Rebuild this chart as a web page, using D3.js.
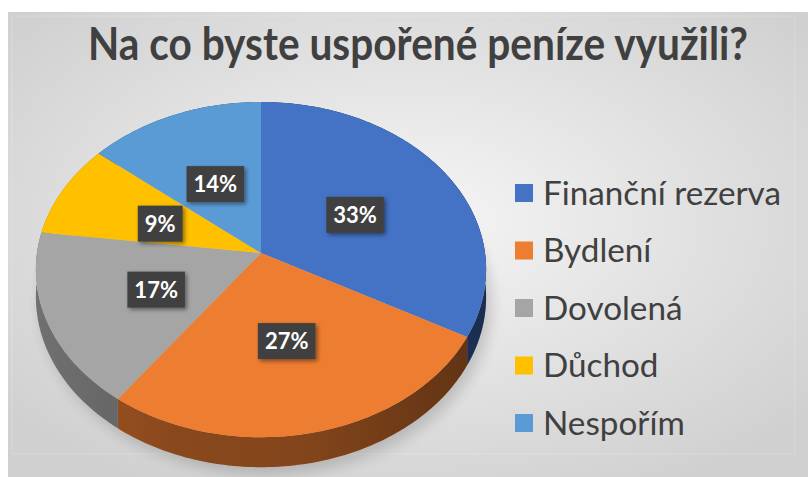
<!DOCTYPE html>
<html>
<head>
<meta charset="utf-8">
<script src="https://cdn.jsdelivr.net/npm/d3@7"></script>
<style>
  html, body { margin: 0; padding: 0; background: #fff; }
  svg { display: block; }
</style>
</head>
<body>
<svg id="chart" width="808" height="477"></svg>
<script>
var title = "Na co byste uspořené peníze využili?";
var categories = ["Finanční rezerva", "Bydlení", "Dovolená", "Důchod", "Nespořím"];
var values = [33, 27, 17, 9, 14];
var colors = ["#4472C4", "#ED7D31", "#A5A5A5", "#FFC000", "#5B9BD5"];

var width = 808, height = 477;
var svg = d3.select("#chart");
var defs = svg.append("defs");

// background
var bg = defs.append("radialGradient").attr("id", "bg")
  .attr("cx", "0.5").attr("cy", "0.45").attr("r", "0.65");
bg.append("stop").attr("offset", "0").attr("stop-color", "#f6f6f6");
bg.append("stop").attr("offset", "1").attr("stop-color", "#d0d0d0");
svg.append("rect").attr("x", 8).attr("y", 12).attr("width", width - 8).attr("height", height - 12)
  .attr("fill", "url(#bg)");
svg.append("rect").attr("x", 12).attr("y", 16).attr("width", 783).attr("height", 438)
  .attr("fill", "none").attr("stroke", "#ffffff").attr("stroke-opacity", 0.2);

// title, fitted to its width in the reference (Calibri is taller/narrower, so stretch a bit)
var t = svg.append("text").text(title)
  .attr("x", 0).attr("y", 0)
  .attr("text-anchor", "middle")
  .attr("transform", "translate(418,60) scale(1,1.15)")
  .style("font-family", "Lato, 'Open Sans', sans-serif")
  .style("font-weight", "bold")
  .style("font-size", "40px")
  .attr("fill", "#404040");
var tw = t.node().getComputedTextLength();
t.style("font-size", (40 * 660 / tw) + "px");

// 3D pie projection
var cx = 261, cy = 253, R = 224;
var SIN = 0.741, COS = 0.671, D = 6.78, depth = 27;

function proj(x, z, h) {
  var s = D / (D - z * COS);
  return [cx + R * x * s, cy + R * z * SIN * s + h * s];
}
function rim(a, r, h) {
  var phi = a - Math.PI / 2;
  return proj(r * Math.cos(phi), r * Math.sin(phi), h);
}

var color = d3.scaleOrdinal().domain(categories).range(colors);
var pie = d3.pie().sort(null).value(function(d, i) { return values[i]; });
var arcs = pie(categories);
var total = d3.sum(values);
var line = d3.line();

function sample(a0, a1) {
  var n = Math.max(2, Math.ceil((a1 - a0) / 0.02));
  return d3.range(n + 1).map(function(i) { return a0 + (a1 - a0) * i / n; });
}

// soft shadow
var blur = defs.append("filter").attr("id", "blur").attr("x", "-20%").attr("y", "-20%").attr("width", "140%").attr("height", "140%");
blur.append("feGaussianBlur").attr("stdDeviation", 7);
var ring = sample(0, 2 * Math.PI);
svg.append("path")
  .attr("d", line(ring.map(function(a) { return rim(a, 1, depth); })) + "Z")
  .attr("transform", "translate(5,7)")
  .attr("fill", "#000").attr("opacity", 0.16)
  .attr("filter", "url(#blur)");

// side shading
var shade = defs.append("linearGradient").attr("id", "shade")
  .attr("gradientUnits", "userSpaceOnUse")
  .attr("x1", cx - R).attr("x2", cx + R).attr("y1", 0).attr("y2", 0);
shade.append("stop").attr("offset", "0").attr("stop-opacity", 0.32);
shade.append("stop").attr("offset", "0.3").attr("stop-opacity", 0.42);
shade.append("stop").attr("offset", "0.6").attr("stop-opacity", 0.45);
shade.append("stop").attr("offset", "1").attr("stop-opacity", 0.6);

var sides = svg.append("g");
arcs.forEach(function(d) {
  var as = sample(d.startAngle, d.endAngle);
  var top = as.map(function(a) { return rim(a, 1, 0); });
  var bot = as.slice().reverse().map(function(a) { return rim(a, 1, depth); });
  var p = line(top.concat(bot)) + "Z";
  sides.append("path").attr("d", p).attr("fill", color(d.data));
  sides.append("path").attr("d", p).attr("fill", "url(#shade)");
});
shade.selectAll("stop").attr("stop-color", "#000");

// top faces
var tops = svg.append("g");
arcs.forEach(function(d) {
  var pts = [proj(0, 0, 0)].concat(sample(d.startAngle, d.endAngle).map(function(a) { return rim(a, 1, 0); }));
  tops.append("path").attr("d", line(pts) + "Z").attr("fill", color(d.data));
});

// data labels
var ds = defs.append("filter").attr("id", "ds").attr("x", "-30%").attr("y", "-30%").attr("width", "160%").attr("height", "160%");
ds.append("feDropShadow").attr("dx", 2).attr("dy", 2).attr("stdDeviation", 2)
  .attr("flood-color", "#000").attr("flood-opacity", 0.45);

var labels = svg.append("g");
arcs.forEach(function(d, i) {
  var mid = (d.startAngle + d.endAngle) / 2;
  var p = rim(mid, 0.5, 0);
  var g = labels.append("g").attr("transform", "translate(" + p[0] + "," + (p[1] + 3) + ")");
  var rect = g.append("rect").attr("fill", "#404040").attr("filter", "url(#ds)");
  var txt = g.append("text").text(Math.round(values[i] / total * 100) + "%")
    .attr("text-anchor", "middle").attr("dy", "0.36em")
    .style("font-family", "Lato, 'Open Sans', sans-serif")
    .style("font-weight", "bold").style("font-size", "22px")
    .attr("fill", "#ffffff");
  var w = txt.node().getComputedTextLength() + 14;
  rect.attr("x", -w / 2).attr("y", -18).attr("width", w).attr("height", 36);
});

// legend
var ly = d3.scalePoint().domain(categories).range([193, 423]);
var legend = svg.append("g");
var lt = [];
categories.forEach(function(c) {
  legend.append("rect").attr("x", 515).attr("y", ly(c) - 9).attr("width", 18).attr("height", 18)
    .attr("fill", color(c));
  lt.push(legend.append("text").text(c)
    .attr("x", 543).attr("y", ly(c)).attr("dy", "0.36em")
    .style("font-family", "Lato, 'Open Sans', sans-serif")
    .style("font-size", "28px")
    .attr("fill", "#404040"));
});
var lw = lt[0].node().getComputedTextLength();
lt.forEach(function(e) { e.style("font-size", (28 * 238 / lw) + "px"); });
</script>
</body>
</html>
